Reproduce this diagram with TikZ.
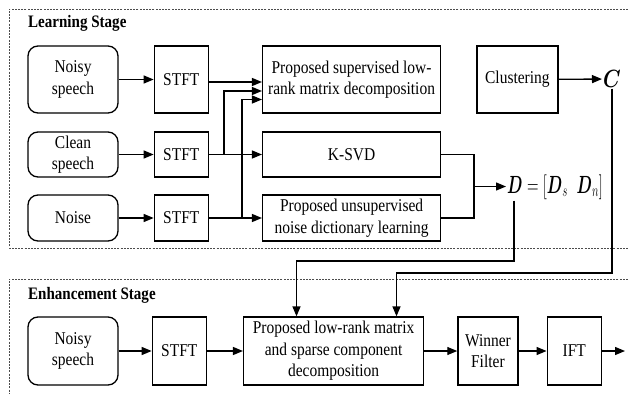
\documentclass[tikz,border=0pt]{standalone}
\usepackage{amsmath}
\usepackage{amssymb}
\usepackage{fontspec}
\setmainfont[FakeStretch=0.86]{Liberation Serif}
\usetikzlibrary{arrows.meta, positioning, calc}
\tikzset{%
	src/.style={draw, rectangle, rounded corners=10pt, line width=1.3pt,%
		minimum width=90pt, align=center, inner sep=1pt},
	proc/.style={draw, rectangle, line width=1.3pt, align=center, inner sep=1pt},
	stage/.style={anchor=west, inner sep=0pt, font=\rmfamily\fontsize{17.5}{20}\selectfont\bfseries},
	frame/.style={draw=black!70, line width=0.8pt, dash pattern=on 2pt off 1.2pt},
	conn/.style={line width=1.3pt},
	sel/.style={line width=1.3pt, -{Triangle[length=10pt,width=8pt]}},
	sym/.style={inner sep=1pt, font=\fontsize{25}{28}\selectfont}
}

\begin{document}
\begin{tikzpicture}[x=1pt, y=-1pt, font=\rmfamily\fontsize{18}{21.5}\selectfont]
		\useasboundingbox (0,0) rectangle (628,393);

		% stage frames, open on the right
		\draw [frame] (628,9) -- (9,9) -- (9,248) -- (628,248);
		\draw [frame] (628,279) -- (9,279) -- (9,393);
		\node[stage] (learn) at (28,23) {Learning Stage};
		\node[stage] (enh) at (28,295) {Enhancement Stage};

		% learning stage
		\node[src, minimum height=67pt] (noisy) at (73,79.5) {Noisy\\speech};
		\node[proc, minimum width=54pt, minimum height=67pt] (stft1) [right=35pt of noisy] {STFT};
		\node[proc, minimum width=178pt, minimum height=67pt] (sup) [right=53pt of stft1] {Proposed supervised low-\\rank matrix decomposition};
		\node[proc, minimum width=81pt, minimum height=67pt] (clus) [right=35pt of sup] {Clustering};
		\node[sym] (C) at (612,79) {\scalebox{0.8}[1]{$\boldsymbol{C}$}};

		\node[src, minimum height=45pt] (clean) at (73,154.5) {Clean\\speech};
		\node[proc, minimum width=54pt, minimum height=45pt] (stft2) [right=35pt of clean] {STFT};
		\node[proc, minimum width=178pt, minimum height=45pt] (ksvd) [right=53pt of stft2] {K-SVD};

		\node[src, minimum height=46pt] (noise) at (73,218) {Noise};
		\node[proc, minimum width=54pt, minimum height=46pt] (stft3) [right=35pt of noise] {STFT};
		\node[proc, minimum width=178pt, minimum height=46pt] (unsup) [right=53pt of stft3] {Proposed unsupervised\\noise dictionary learning};

		\node[sym, anchor=west] (D) at (506,187) {\scalebox{0.64}[1]{$\boldsymbol{D}=[\boldsymbol{D}_s\;\;\boldsymbol{D}_n]$}};

		\coordinate (j1) at (224,91);
		\coordinate (j2) at (242,99.5);
		\coordinate (m) at (474,186.5);

		\draw [sel] (noisy) to (stft1);
		\draw [sel] ([yshift=-2.5pt]stft1.east) to ([yshift=-2.5pt]stft1.east -| sup.west);
		\draw [sel] (clus) to (C);
		\draw [sel] (clean) to (stft2);
		\draw [sel] (stft2) to (ksvd);
		\draw [sel] (stft2.east) -| (j1) -- (j1 -| sup.west);
		\draw [sel] (noise) to (stft3);
		\draw [sel] (stft3) to (unsup);
		\draw [sel] (stft3.east) -| (j2) -- (j2 -| sup.west);
		\draw [conn] (ksvd.east) -| (m);
		\draw [conn] (unsup.east) -| (m);
		\draw [sel] (m) to (D.west |- m);

		% enhancement stage
		\node[src, minimum height=68pt] (noisy2) at (73,351) {Noisy\\speech};
		\node[proc, minimum width=54pt, minimum height=68pt] (stft4) [right=33pt of noisy2] {STFT};
		\node[proc, minimum width=180pt, minimum height=68pt] (lrsc) [right=36pt of stft4] {Proposed low-rank matrix\\and sparse component\\decomposition};
		\node[proc, minimum width=60pt, minimum height=68pt] (wf) [right=33pt of lrsc] {Winner\\Filter};
		\node[proc, minimum width=54pt, minimum height=68pt] (ift) [right=28pt of wf] {IFT};
		\coordinate (out) at (625,351);

		\coordinate (dturn) at (296.5,261);
		\coordinate (cturn) at (396.5,273);
		\draw [sel] ([xshift=8pt]D.south west) |- (dturn) -- (dturn |- lrsc.north);
		\draw [sel] (C.south) |- (cturn) -- (cturn |- lrsc.north);

		\draw [sel] (noisy2) to (stft4);
		\draw [sel] (stft4) to (lrsc);
		\draw [sel] (lrsc) to (wf);
		\draw [sel] (wf) to (ift);
		\draw [sel] (ift) to (out);
	\end{tikzpicture}
\end{document}
